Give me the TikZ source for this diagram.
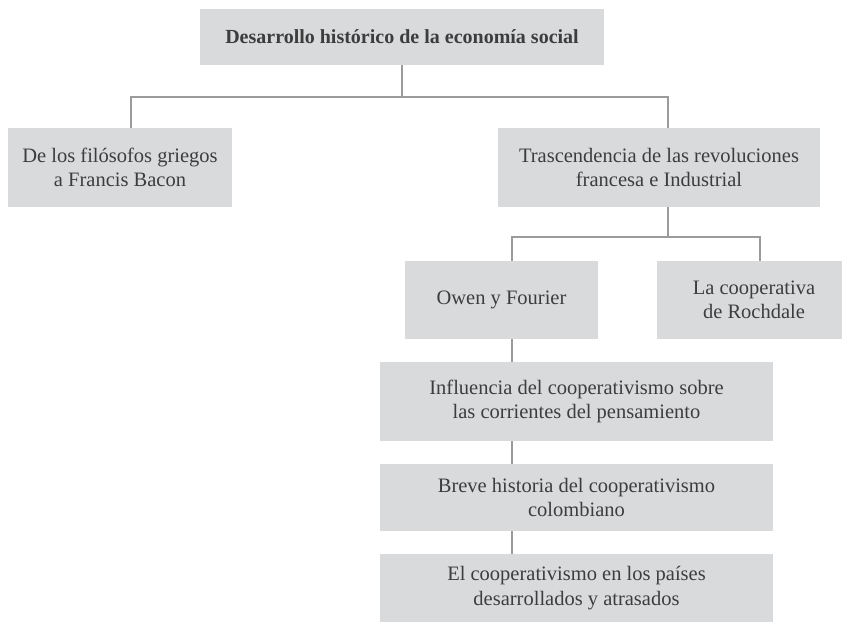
\documentclass[tikz,border=0pt]{standalone}
\usepackage{fontspec}
\setmainfont{Liberation Serif}
\usepackage{tikz}

\definecolor{boxgray}{HTML}{D9DADC}
\definecolor{linegray}{HTML}{9B9B9B}
\definecolor{textgray}{HTML}{3D3D3D}

\tikzset{
    topic/.style={fill=boxgray, text=textgray, align=center, inner sep=0pt,
        font=\fontsize{20.5}{24.5}\selectfont},
    link/.style={draw=linegray, line width=2pt}
}

\begin{document}
\begin{tikzpicture}[x=1pt, y=-1pt]
    \useasboundingbox (0, 0) rectangle (842, 623);

    % Boxes
    \node[topic, minimum width=404pt, minimum height=56pt, font=\fontsize{20}{24}\selectfont\bfseries] (root) at (402, 37) {Desarrollo histórico de la economía social};
    \node[topic, minimum width=224pt, minimum height=79pt] (filo) at (120, 167.5) {De los filósofos griegos\\a Francis Bacon};
    \node[topic, minimum width=322pt, minimum height=79pt] (trasc) at (659, 167.5) {Trascendencia de las revoluciones\\francesa e Industrial};
    \node[topic, minimum width=193pt, minimum height=78pt] (owen) at (501.5, 300) {Owen y Fourier};
    \node[topic, minimum width=194pt, minimum height=78pt] (roch) at (754, 300) {La cooperativa\\de Rochdale};
    \node[topic, minimum width=393pt, minimum height=79pt] (infl) at (576.5, 401.5) {Influencia del cooperativismo sobre\\las corrientes del pensamiento};
    \node[topic, minimum width=393pt, minimum height=67pt] (breve) at (576.5, 497.5) {Breve historia del cooperativismo\\colombiano};
    \node[topic, minimum width=393pt, minimum height=68pt] (coop) at (576.5, 588) {El cooperativismo en los países\\desarrollados y atrasados};

    % First branch
    \draw[link] (root.south) -- ++(0, 32) coordinate (j1);
    \draw[link] ([xshift=11pt]filo.north) |- (j1) -| ([xshift=9pt]trasc.north);

    % Second branch
    \draw[link] ([xshift=9pt]trasc.south) -- ++(0, 30) coordinate (j2);
    \draw[link] ([xshift=10pt]owen.north) |- (j2) -| ([xshift=6pt]roch.north);

    % Vertical chain
    \coordinate (spine) at ([xshift=10pt]owen.south);
    \draw[link] (spine) -- (spine |- infl.north);
    \draw[link] (infl.south -| spine) -- (breve.north -| spine);
    \draw[link] (breve.south -| spine) -- (coop.north -| spine);
\end{tikzpicture}
\end{document}
